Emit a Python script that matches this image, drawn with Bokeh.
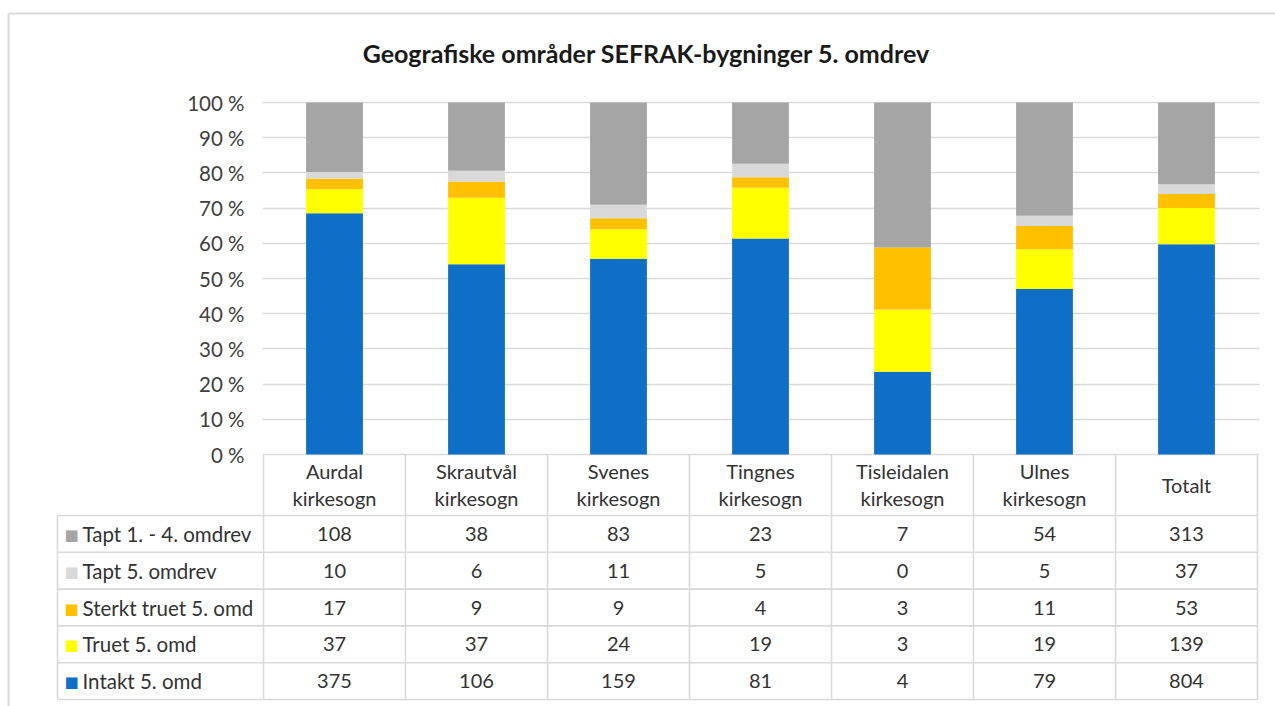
from bokeh.plotting import figure
from bokeh.models import ColumnDataSource, Range1d, FixedTicker, PrintfTickFormatter
from bokeh.core.properties import value
from bokeh.embed import file_html
from bokeh.resources import INLINE

categories = ["Aurdal\nkirkesogn", "Skrautvål\nkirkesogn", "Svenes\nkirkesogn",
              "Tingnes\nkirkesogn", "Tisleidalen\nkirkesogn", "Ulnes\nkirkesogn", "Totalt"]
series_names = ["Tapt 1. - 4. omdrev", "Tapt 5. omdrev", "Sterkt truet 5. omd",
                "Truet 5. omd", "Intakt 5. omd"]
tapt_1_4 = [108, 38, 83, 23, 7, 54, 313]
tapt_5 = [10, 6, 11, 5, 0, 5, 37]
sterkt_truet = [17, 9, 9, 4, 3, 11, 53]
truet = [37, 37, 24, 19, 3, 19, 139]
intakt = [375, 106, 159, 81, 4, 79, 804]
y_ticks = [0, 10, 20, 30, 40, 50, 60, 70, 80, 90, 100]
title_text = "Geografiske områder  SEFRAK-bygninger 5. omdrev"

colors = {"Tapt 1. - 4. omdrev": "#A5A5A5", "Tapt 5. omdrev": "#D9D9D9",
          "Sterkt truet 5. omd": "#FFC000", "Truet 5. omd": "#FFFF00",
          "Intakt 5. omd": "#0F6FC6"}
series_values = [tapt_1_4, tapt_5, sterkt_truet, truet, intakt]

FONT = "Lato"
GRID = "#D9D9D9"
TXT = "#333333"
n = len(categories)
totals = [sum(s[i] for s in series_values) for i in range(n)]
pct = {name: [100.0 * vals[i] / totals[i] for i in range(n)]
       for name, vals in zip(series_names, series_values)}
xs = [i + 0.5 for i in range(n)]
src = ColumnDataSource(dict(x=xs, **{f"s{k}": pct[name] for k, name in enumerate(series_names)}))

# geometry (page pixels -> data units)
W, H = 1275, 706
U = 142.0            # pixels per category
PX = 3.52            # pixels per percent
Y0 = 454.0           # page y of 0 %
X0 = 263.0           # page x of first category boundary


def ux(px):
    return (px - X0) / U


def uy(py):
    return (Y0 - py) / PX


p = figure(width=W, height=H, output_backend="svg", toolbar_location=None,
           x_range=Range1d(ux(262), ux(1259)), y_range=Range1d(uy(H), uy(0)),
           min_border_left=262, min_border_right=W - 1259, min_border_top=0, min_border_bottom=0)
p.xaxis.visible = False
p.xgrid.visible = False
p.outline_line_color = None
p.yaxis.ticker = FixedTicker(ticks=y_ticks)
p.yaxis.formatter = PrintfTickFormatter(format="%d %%")
p.yaxis.axis_line_color = None
p.yaxis.major_tick_line_color = None
p.yaxis.minor_tick_line_color = None
p.yaxis.major_label_standoff = 12
p.yaxis.major_label_text_font = FONT
p.yaxis.major_label_text_font_size = "20.5px"
p.yaxis.major_label_text_color = "#404040"
p.ygrid.ticker = FixedTicker(ticks=y_ticks)
p.ygrid.grid_line_color = GRID
p.ygrid.grid_line_width = 1.6

# stacked 100 % bars
stack_order = list(reversed(series_names))  # bottom to top
keys = [f"s{series_names.index(nm)}" for nm in stack_order]
p.vbar_stack(keys, x="x", width=0.40, source=src,
             color=[colors[nm] for nm in stack_order], line_width=0)

# title
p.text(x=[ux(649)], y=[uy(52)], text=[title_text], text_align="center",
       text_baseline="middle", text_font=value(FONT), text_font_size="25px",
       text_font_style="bold", text_color="#1a1a1a")

# outer chart border (top and left)
p.segment(x0=[ux(8), ux(8)], y0=[uy(13), uy(13)], x1=[ux(1275), ux(8)], y1=[uy(13), uy(H)],
          line_color=GRID, line_width=2, level="overlay")

# ---------------- data table ----------------
RH = 36.8
row_top = 515.0
row_lines = [row_top + RH * k for k in range(6)]
x_left = ux(57)

# horizontal row lines
p.segment(x0=[x_left] * 6, y0=[uy(r) for r in row_lines], x1=[7] * 6, y1=[uy(r) for r in row_lines],
          line_color=GRID, line_width=1.6, level="overlay")
# vertical column lines (category columns, from 0 % down)
p.segment(x0=list(range(n + 1)), y0=[0] * (n + 1), x1=list(range(n + 1)),
          y1=[uy(row_lines[-1])] * (n + 1), line_color=GRID, line_width=1.6)
# legend column left line
p.segment(x0=[x_left], y0=[uy(row_top)], x1=[x_left], y1=[uy(row_lines[-1])],
          line_color=GRID, line_width=1.6, level="overlay")

# header labels
p.text(x=xs, y=[uy(484)] * n, text=categories, text_align="center", text_baseline="middle",
       text_font=value(FONT), text_font_size="20px", text_color=TXT, text_line_height=1.12)

# legend cells: colour keys drawn as square glyph characters, then the series names
row_y = [uy(row_top + RH * (k + 0.5)) for k in range(len(series_names))]
p.text(x=[ux(71)] * len(series_names), y=[r - 0.3 for r in row_y], text=["■"] * len(series_names),
       text_align="center", text_baseline="middle", text_font=value("DejaVu Sans"),
       text_font_size="15px", text_color=[colors[nm] for nm in series_names], level="overlay")
p.text(x=[ux(82)] * len(series_names), y=row_y, text=series_names,
       text_align="left", text_baseline="middle", text_font=value(FONT),
       text_font_size="20.5px", text_color=TXT, level="overlay")

# value cells
cell_x, cell_y, cell_t = [], [], []
for k, vals in enumerate(series_values):
    for i in range(n):
        cell_x.append(i + 0.5)
        cell_y.append(row_y[k])
        cell_t.append(str(vals[i]))
p.text(x=cell_x, y=cell_y, text=cell_t, text_align="center", text_baseline="middle",
       text_font=value(FONT), text_font_size="20px", text_color=TXT)

open("out.html", "w").write(file_html(p, INLINE))
